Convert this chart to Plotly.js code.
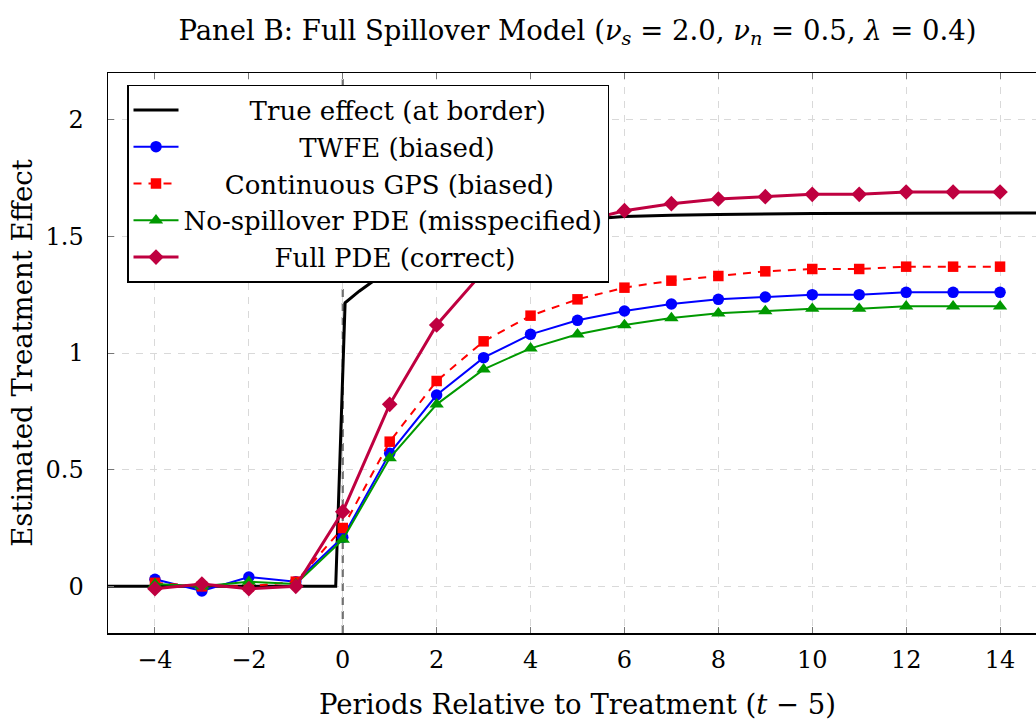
<!DOCTYPE html>
<html>
<head>
<meta charset="utf-8">
<script src="https://cdn.plot.ly/plotly-3.0.1.min.js"></script>
<style>
html,body{margin:0;padding:0;overflow:hidden;background:#fff;}
#chart{width:1060px;height:720px;}
</style>
</head>
<body>
<div id="chart"></div>
<script>
// ---- data ----
const periods = [-4,-3,-2,-1,0,1,2,3,4,5,6,7,8,9,10,11,12,13,14];
const twfe   = [0.03,-0.02,0.04,0.02,0.21,0.57,0.82,0.98,1.08,1.14,1.18,1.21,1.23,1.24,1.25,1.25,1.26,1.26,1.26];
const gps    = [0.015,0.00,0.00,0.02,0.25,0.62,0.88,1.05,1.16,1.23,1.28,1.31,1.33,1.35,1.36,1.36,1.37,1.37,1.37];
const noSpill= [0.01,0.00,0.02,0.01,0.20,0.55,0.78,0.93,1.02,1.08,1.12,1.15,1.17,1.18,1.19,1.19,1.20,1.20,1.20];
const fullPDE= [-0.01,0.01,-0.01,0.00,0.32,0.78,1.12,1.35,1.47,1.56,1.61,1.64,1.66,1.67,1.68,1.68,1.69,1.69,1.69];
const trueT  = [-5,-0.15,0.05,0.35,0.66,1.0,1.5,2.0,3.0,4.0,5.0,5.6,6.0,7.0,8.0,10.0,12.0,15.0];
const trueV  = [0,0,1.215,1.265,1.31,1.36,1.42,1.46,1.52,1.555,1.57,1.578,1.585,1.59,1.594,1.598,1.60,1.60];
const treatStart = 0;
const xTicks = [-4,-2,0,2,4,6,8,10,12,14];
const yTicks = [0,0.5,1,1.5,2];
const yTickText = ["0","0.5","1","1.5","2"];
const names = ["True effect (at border)","TWFE (biased)","Continuous GPS (biased)","No-spillover PDE (misspecified)","Full PDE (correct)"];
const pads  = [8,14,5,0,11];

const FONT = "DejaVu Serif";
const FS_TICK = 24, FS_LEG = 26, FS_TITLE = 27.5;
const nb = n => "\u00A0".repeat(n);

const traces = [
  {x: trueT, y: trueV, name: nb(pads[0])+names[0], mode: "lines",
   line: {color: "#000000", width: 3}},
  {x: periods, y: twfe, name: nb(pads[1])+names[1], mode: "lines+markers",
   line: {color: "#0000ff", width: 2}, marker: {symbol: "circle", size: 11.5, color: "#0000ff"}},
  {x: periods, y: gps, name: nb(pads[2])+names[2], mode: "lines+markers",
   line: {color: "#ff0000", width: 2, dash: "8px,7px"}, marker: {symbol: "square", size: 10.5, color: "#ff0000"}},
  {x: periods, y: noSpill, name: nb(pads[3])+names[3], mode: "lines+markers",
   line: {color: "#009900", width: 2}, marker: {symbol: "triangle-up", size: 12.5, color: "#009900"}},
  {x: periods, y: fullPDE, name: nb(pads[4])+names[4], mode: "lines+markers",
   line: {color: "#bf0040", width: 3}, marker: {symbol: "diamond", size: 12, color: "#bf0040"}}
];

const layout = {
  width: 1060, height: 720,
  margin: {l: 108, r: 13, t: 73, b: 87},
  paper_bgcolor: "#fff", plot_bgcolor: "#fff",
  font: {family: FONT, size: FS_TICK, color: "#000"},
  title: {text: "Panel B: Full Spillover Model (<i>ν</i><sub><i>s</i></sub> = 2.0, <i>ν</i><sub><i>n</i></sub> = 0.5, <i>λ</i> = 0.4)",
          x: 0.5, xref: "paper", xanchor: "center", y: 1 - 30/720, yref: "container", yanchor: "middle",
          font: {family: FONT, size: FS_TITLE}},
  xaxis: {range: [-5, 15], tickvals: xTicks, ticks: "inside", ticklen: 6, tickwidth: 1, tickcolor: "#777",
          showline: true, linecolor: "#000", linewidth: 1.5, mirror: "allticks",
          showgrid: true, gridcolor: "#d9d9d9", gridwidth: 1, griddash: "7px,7px", zeroline: false,
          tickfont: {family: FONT, size: FS_TICK}, ticklabelstandoff: 5,
          title: {text: "Periods Relative to Treatment (<i>t</i> − 5)", font: {family: FONT, size: FS_TITLE}, standoff: 21}},
  yaxis: {range: [-0.2, 2.2], tickvals: yTicks, ticktext: yTickText, ticks: "inside", ticklen: 6, tickwidth: 1, tickcolor: "#777",
          showline: true, linecolor: "#000", linewidth: 1.5, mirror: "allticks",
          showgrid: true, gridcolor: "#d9d9d9", gridwidth: 1, griddash: "7px,7px", zeroline: false,
          tickfont: {family: FONT, size: FS_TICK}, ticklabelstandoff: 18,
          title: {text: "Estimated Treatment Effect", font: {family: FONT, size: FS_TITLE}, standoff: 5}},
  legend: {x: 19/939, y: 0.9786, xanchor: "left", yanchor: "top", bgcolor: "#fff",
           bordercolor: "#000", borderwidth: 1.5, itemwidth: 45, tracegroupgap: 0,
           font: {family: FONT, size: FS_LEG}},
  shapes: [{type: "line", xref: "x", yref: "paper", x0: treatStart, x1: treatStart, y0: 0, y1: 1,
            layer: "between", line: {color: "#707070", width: 2.2, dash: "8px,6px"}}],
  showlegend: true
};

Plotly.newPlot("chart", traces, layout, {displayModeBar: false, staticPlot: true});
</script>
</body>
</html>
